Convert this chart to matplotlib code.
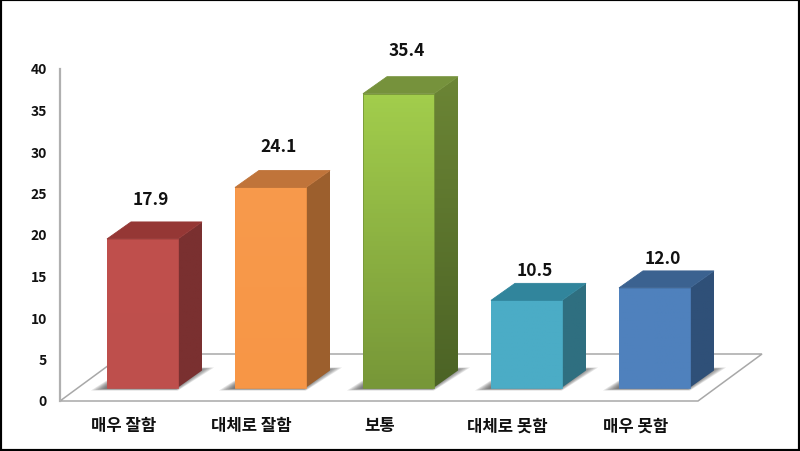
import numpy as np
import matplotlib.pyplot as plt
from matplotlib.colors import LinearSegmentedColormap
from matplotlib.patches import Polygon, Rectangle

plt.rcParams['font.family'] = ['Noto Sans CJK KR', 'DejaVu Sans']

# Data
categories = ["매우 잘함", "대체로 잘함", "보통", "대체로 못함", "매우 못함"]
values = [17.9, 24.1, 35.4, 10.5, 12.0]
y_ticks = [0, 5, 10, 15, 20, 25, 30, 35, 40]

# Colours: front top, front bottom, roof, side top, side bottom
front_top = ["#C0504D", "#F89A4C", "#A2CD4C", "#4BACC6", "#4F81BD"]
front_bot = ["#BE4F4C", "#F79646", "#779738", "#4BACC6", "#4F81BD"]
roof = ["#953735", "#C0743A", "#76923C", "#31859C", "#3B6290"]
side_top = ["#7A3030", "#9C5F2D", "#6B8535", "#2F6F80", "#2F5078"]
side_bot = ["#7A3030", "#9C5F2D", "#4C6325", "#2F6F80", "#2F5078"]
label_gap = [39, 40, 43, 29, 29]  # px above the bar front

# Pixel scales of the picture
px_x = 128.0      # one category
px_y = 8.3        # one unit of value
x0_px = 142.5
y0_px = 388.5
dx = 24 / px_x    # depth of the boxes
dy = 17 / px_y
half = 35.5 / px_x
floor_drop = 13.5 / px_y

fig = plt.figure(figsize=(8, 4.52), dpi=100)
ax = fig.add_axes([0, 0, 1, 1])
ax.axis("off")

xlim = (-x0_px / px_x, (800 - x0_px) / px_x)
ylim = ((y0_px - 452) / px_y, y0_px / px_y)


def vgrad(x1, x2, y1, y2, c_top, c_bot, clip=None, z=3):
    cmap = LinearSegmentedColormap.from_list("g", [c_bot, c_top])
    im = ax.imshow(np.linspace(1, 0, 64).reshape(-1, 1), cmap=cmap, vmin=0, vmax=1,
                   extent=(x1, x2, y1, y2), aspect="auto", zorder=z)
    if clip is not None:
        p = Polygon(clip, closed=True, transform=ax.transData)
        im.set_clip_path(p)


# Floor
fl = -floor_drop
x_left = -82.5 / px_x
x_right = 555.5 / px_x
ax.add_patch(Polygon([(x_left, fl), (x_right, fl),
                      (x_right + 64 / px_x, fl + 47 / px_y),
                      (x_left + 64 / px_x, fl + 47 / px_y)],
                     closed=True, fc="white", ec="#A8A8A8", lw=1.1, zorder=1))
# Value axis
ax.plot([x_left, x_left], [fl, fl + 40], color="#B0B0B0", lw=1.6, zorder=2)

for v in y_ticks:
    ax.annotate(str(v), (x_left, v - floor_drop), xytext=(-13, -0.5),
                textcoords="offset pixels", ha="right", va="center",
                fontsize=10, fontweight="bold", color="#111111")

for i, (name, v) in enumerate(zip(categories, values)):
    l, r = i - half, i + half

    # soft shadow on the floor
    for k in range(8):
        g = k * 2.2
        ax.add_patch(Polygon([(l - (16 - g) / px_x, (-3 + k * 0.3) / px_y),
                              (r + (0 - g * 0.2) / px_x, (-3 + k * 0.3) / px_y),
                              (r + (36 - g) / px_x, (20 - k * 0.3) / px_y),
                              (l + 20 / px_x, (20 - k * 0.3) / px_y)],
                             closed=True, fc="#303030", ec="none", alpha=0.13, zorder=2))

    # front
    vgrad(l, r, 0, v, front_top[i], front_bot[i])
    ax.add_patch(Rectangle((l, 0), r - l, v, fc="none", ec=front_bot[i], lw=0.6, zorder=4))
    # side
    side = [(r, 0), (r + dx, dy), (r + dx, v + dy), (r, v)]
    vgrad(r, r + dx, 0, v + dy, side_top[i], side_bot[i], clip=side)
    # roof
    ax.add_patch(Polygon([(l, v), (l + dx, v + dy), (r + dx, v + dy), (r, v)],
                         closed=True, fc=roof[i], ec=roof[i], lw=0.6, zorder=4))

    ax.annotate(f"{v:.1f}", (i + 8 / px_x, v), xytext=(0, label_gap[i] + 1),
                textcoords="offset pixels", ha="center", va="center",
                fontsize=12.5, fontweight="bold", color="#111111", zorder=6)
    ax.annotate(name, (i - 19 / px_x, 0), xytext=(0, -38),
                textcoords="offset pixels", ha="center", va="center",
                fontsize=12, fontweight="bold", color="#111111")

ax.set_xlim(*xlim)
ax.set_ylim(*ylim)

# Black frame around the picture
fig.add_artist(Rectangle((0, 0), 1, 1, transform=fig.transFigure, fc="none",
                         ec="black", lw=3.0))

fig.savefig("out.png", dpi=100)
